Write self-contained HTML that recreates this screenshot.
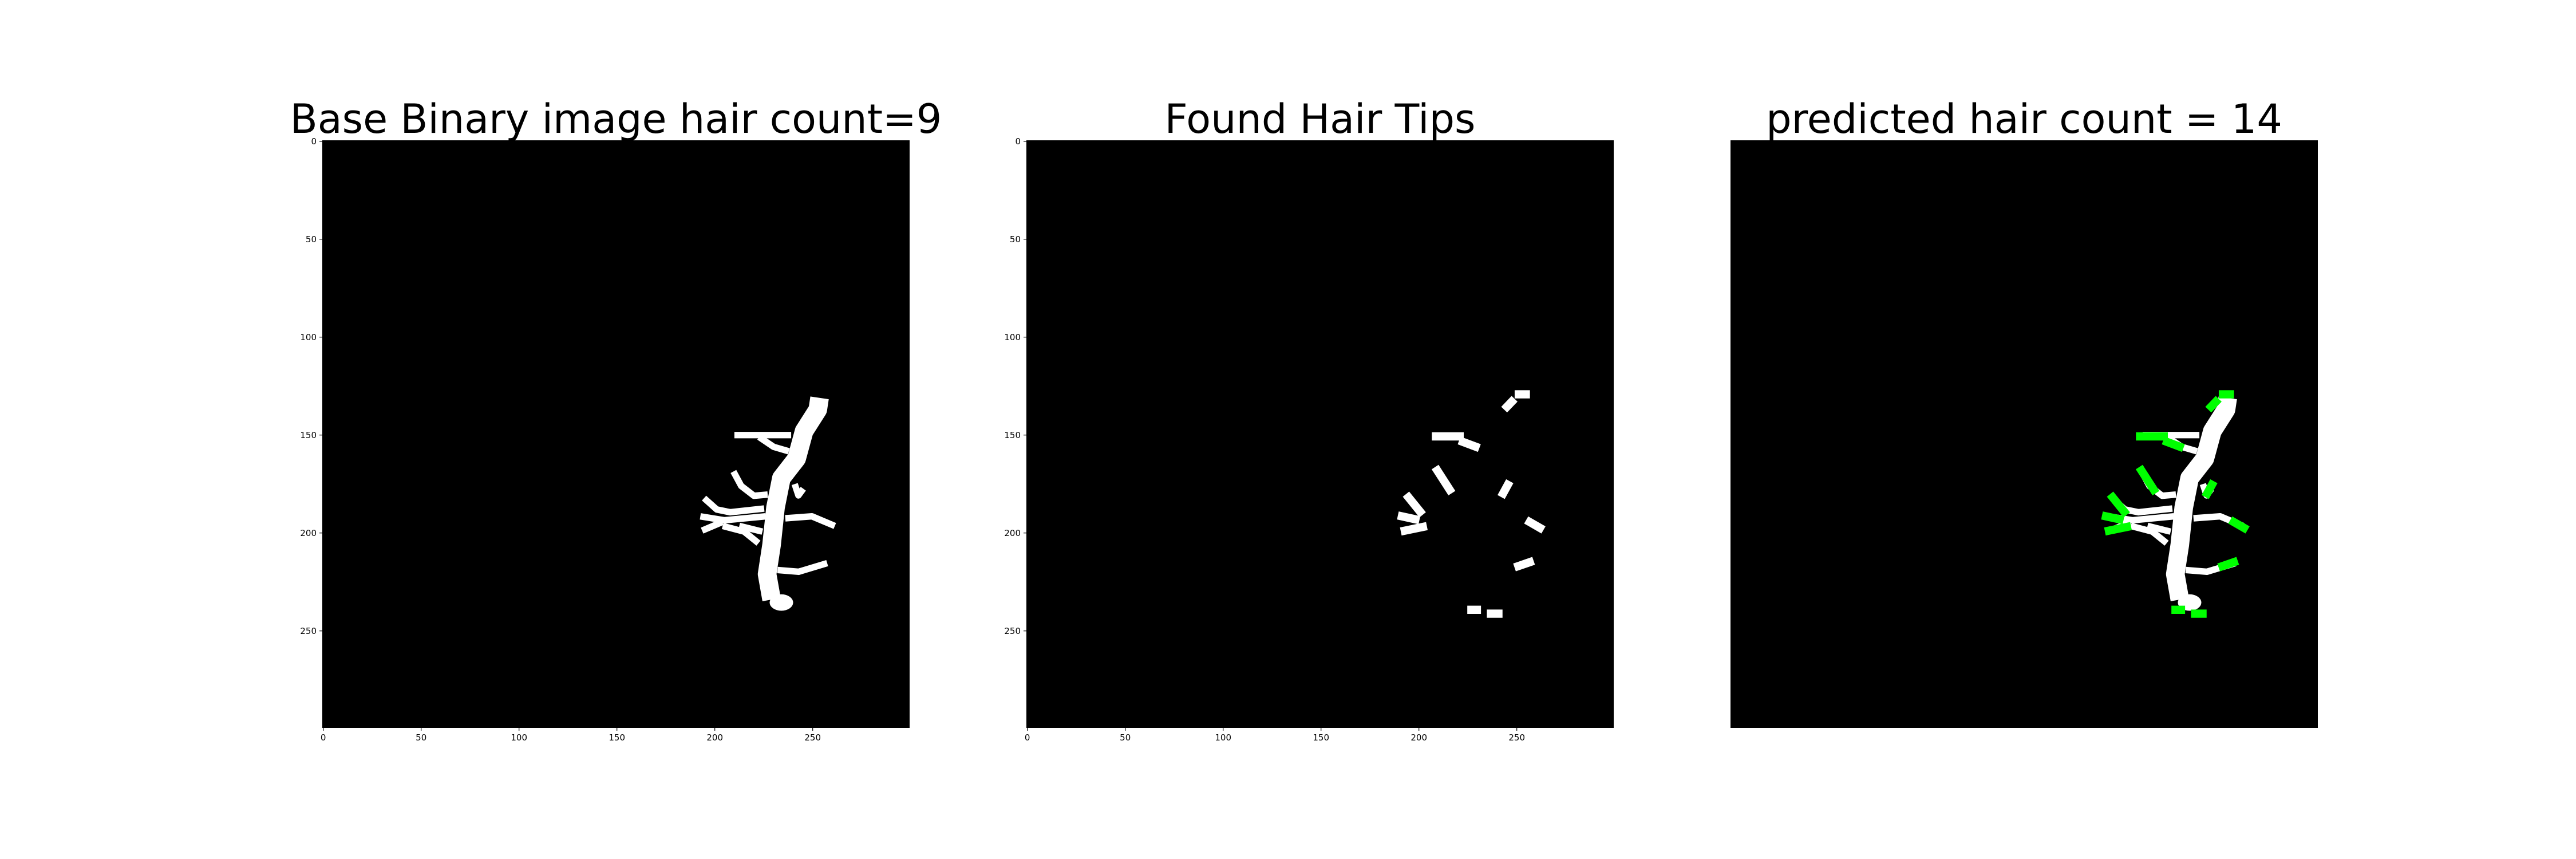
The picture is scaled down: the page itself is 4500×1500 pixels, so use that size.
<!DOCTYPE html>
<html><head><meta charset="utf-8"><style>
html,body{margin:0;padding:0;background:#fff;}
svg{display:block;}
text{font-family:"DejaVu Sans","Liberation Sans",sans-serif;fill:#000;}
</style></head><body>
<svg id="fig" width="4500" height="1500" viewBox="0 0 4500 1500" xmlns="http://www.w3.org/2000/svg">
<rect width="4500" height="1500" fill="#fff"/>
</svg>
<script>
// image data (pixel coords, 300x300 image)
const titles = ["Base Binary image hair count=9", "Found Hair Tips", "predicted hair count = 14"];
const tickValues = [0, 50, 100, 150, 200, 250];
const trunk = [[253.5,131],[252.6,137],[245.6,148],[241.8,162],[234,172],[231,187],[229,206],[226.7,221],[229,234]];
const branches = [
  [[210,150],[239,150]],
  [[222.6,151],[230,156],[237.8,158.3]],
  [[209.5,168.6],[213.5,176],[220,181],[227,180.4]],
  [[240.8,175],[242.7,180.8],[245.2,177.4]],
  [[194.5,182.2],[201,188],[207.8,189.4],[225.2,187.5]],
  [[192.6,191.5],[204.8,193.5],[226,191.5]],
  [[193.5,198.8],[203.8,194.4]],
  [[204,196.4],[215,199.3],[222.3,205.2]],
  [[212.5,196.4],[224.3,199.3]],
  [[236,192.5],[249.6,191.5],[261.3,196.4]],
  [[232,218.9],[242.8,219.8],[257.4,215.4]]
];
const blob = [234.5, 236, 6, 4.2];
const tips = [
  [251,129.2,254.6,129.2],
  [247.4,133,245,135.5],
  [208.7,150.7,220.8,150.7],
  [222.5,153.5,228.9,155.9],
  [209.4,168.1,215.7,177.9],
  [245.4,175.4,243,179.8],
  [194.7,181.8,200.6,189.1],
  [191.3,191.5,198.2,193],
  [192.8,198.8,202,196.9],
  [256.6,194.4,261.8,197.4],
  [250.8,216.9,256.6,214.9],
  [226.8,239.2,229.6,239.2],
  [236.8,241.2,240.6,241.2]
];

const NS = "http://www.w3.org/2000/svg";
const svg = document.getElementById('fig');
const panelLefts = [563, 1793, 3023];
const panelTop = 245, S = 1026/300;
function mk(tag, attrs, parent){const e=document.createElementNS(NS,tag);for(const k in attrs)e.setAttribute(k,attrs[k]);parent.appendChild(e);return e;}
function pts(a){return a.map(p=>p.join(',')).join(' ');}

panelLefts.forEach((L, i) => {
  const g = mk('g', {}, svg);
  
  
  const t = mk('text', {x: L + 513, y: 232, 'font-size': 70, 'text-anchor': 'middle'}, g);
  t.textContent = titles[i];
  
  
  const bg = mk('rect', {x: L, y: panelTop, width: 1026, height: 1026, fill: '#000'}, g);
  
  
  const img = mk('g', {transform: `translate(${L},${panelTop}) scale(${S})`}, g);
  
  
  if (i !== 1) {
    const tr = mk('polyline', {points: pts(trunk.map(p=>[p[0]+0.5,p[1]+0.5])), fill: 'none', stroke: '#fff', 'stroke-width': 9.5, 'stroke-linecap': 'butt', 'stroke-linejoin': 'round'}, img);
    
    
    const bl = mk('ellipse', {cx: blob[0], cy: blob[1], rx: blob[2], ry: blob[3], fill: '#fff'}, img);
    
    
    branches.forEach(b => {
      const pl = mk('polyline', {points: pts(b.map(p=>[p[0]+0.5,p[1]+0.5])), fill: 'none', stroke: '#fff', 'stroke-width': 3.3, 'stroke-linecap': 'butt', 'stroke-linejoin': 'round'}, img);
      
      
    });
  }
  if (i > 0) {
    const col = i === 1 ? '#fff' : '#00ff00';
    tips.forEach(tp => {
      const ln = mk('line', {x1: tp[0]+0.5, y1: tp[1]+0.5, x2: tp[2]+0.5, y2: tp[3]+0.5, stroke: col, 'stroke-width': 4.2, 'stroke-linecap': 'square'}, img);
      
      
    });
  }
  if (i < 2) {
    tickValues.forEach(v => {
      const px = L + (v + 0.5) * S, py = panelTop + (v + 0.5) * S;
      mk('line', {x1: px, y1: 1271, x2: px, y2: 1276, stroke: '#000', 'stroke-width': 1.2}, g);
      const xl = mk('text', {x: px, y: 1293, 'font-size': 15, 'text-anchor': 'middle'}, g);
      xl.textContent = v;
      
      
      mk('line', {x1: L - 5, y1: py, x2: L, y2: py, stroke: '#000', 'stroke-width': 1.2}, g);
      const yl = mk('text', {x: L - 10, y: py + 5.5, 'font-size': 15, 'text-anchor': 'end'}, g);
      yl.textContent = v;
      
      
    });
  }
});
</script>
</body></html>
